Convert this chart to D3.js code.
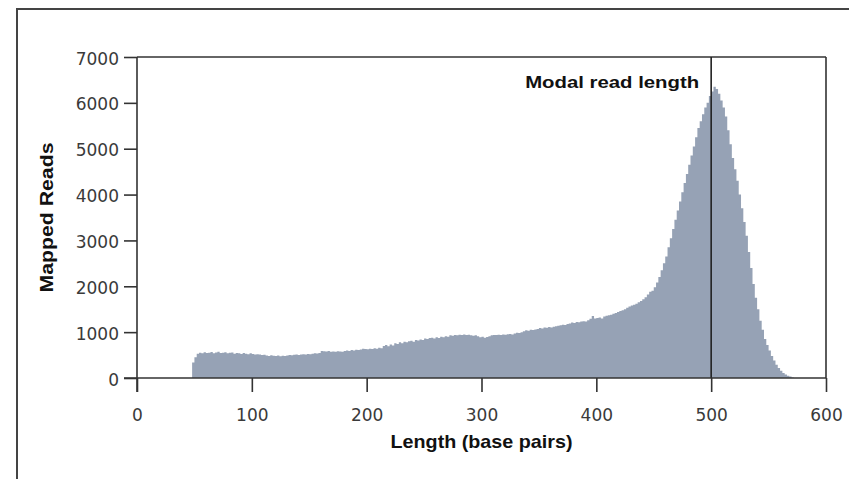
<!DOCTYPE html>
<html>
<head>
<meta charset="utf-8">
<script src="https://cdn.jsdelivr.net/npm/d3@7/dist/d3.min.js"></script>
<style>
  html, body { margin: 0; padding: 0; background: #fff; }
  svg { display: block; }
</style>
</head>
<body>
<svg id="chart" width="849" height="479"></svg>
<script>
// ---- DATA ----
const binStart = 48;      // first bin start (bp)
const binWidth = 2;       // bin width (bp)
const counts = [
  340, 450, 530, 550, 540, 560, 545, 550, 565, 540,
  555, 570, 545, 550, 560, 540, 550, 555, 530, 545,
  540, 525, 545, 530, 520, 540, 525, 510, 520, 515,
  500, 505, 490, 480, 495, 485, 480, 490, 475, 485,
  480, 490, 500, 495, 505, 510, 500, 515, 520, 510,
  525, 520, 530, 540, 535, 545, 590, 585, 580, 590,
  575, 580, 570, 585, 580, 575, 590, 600, 590, 610,
  600, 615, 610, 620, 640, 630, 625, 640, 635, 650,
  640, 660, 650, 700, 720, 690, 730, 710, 760, 740,
  780, 760, 790, 780, 800, 810, 790, 830, 820, 840,
  830, 860, 850, 870, 880, 860, 890, 870, 900, 890,
  910, 900, 930, 920, 940, 930, 945, 935, 950, 940,
  945, 930, 920, 930, 910, 890, 900, 880, 895, 910,
  930, 940, 935, 945, 940, 950, 945, 955, 960, 950,
  970, 985, 980, 1000, 1020, 1040, 1030, 1050, 1045, 1060,
  1070, 1090, 1080, 1100, 1095, 1110, 1100, 1120, 1130, 1140,
  1150, 1160, 1155, 1175, 1190, 1210, 1200, 1220, 1215, 1230,
  1240, 1230, 1260, 1290, 1350, 1300, 1310, 1320, 1300, 1340,
  1360, 1370, 1380, 1400, 1420, 1440, 1460, 1480, 1500, 1530,
  1560, 1580, 1600, 1620, 1650, 1680, 1720, 1760, 1820, 1880,
  1900, 1980, 2080, 2200, 2350, 2500, 2650, 2850, 3050, 3250,
  3450, 3650, 3850, 4050, 4250, 4450, 4650, 4850, 5050, 5250,
  5450, 5600, 5750, 5900, 6000, 6150, 6250, 6350, 6300, 6200,
  6050, 5900, 5700, 5400, 5100, 4800, 4550, 4300, 4000, 3700,
  3400, 3100, 2750, 2400, 2050, 1750, 1500, 1250, 1050, 850,
  720, 600, 480, 380, 290, 220, 160, 110, 75, 50,
  30, 12
];
const xTicks = [0, 100, 200, 300, 400, 500, 600];
const yTicks = [0, 1000, 2000, 3000, 4000, 5000, 6000, 7000];
const modalLength = 500;
const xLabel = "Length (base pairs)";
const yLabel = "Mapped Reads";
const modalLabel = "Modal read length";

// ---- LAYOUT ----
const svg = d3.select("#chart");
const mLeft = 137, mRight = 826, mTop = 57, mBottom = 378;

const x = d3.scaleLinear().domain([0, 600]).range([mLeft, mRight]);
const y = d3.scaleLinear().domain([0, 7000]).range([mBottom, mTop]);

const ink = "#333";

// outer border (top & left)
svg.append("path")
  .attr("d", "M17,479 L17,9 L849,9")
  .attr("fill", "none").attr("stroke", "#444").attr("stroke-width", 2);

// histogram as step area
const pts = counts.map((c, i) => ({ s: binStart + i * binWidth, v: c }));
pts.push({ s: binStart + counts.length * binWidth, v: counts[counts.length - 1] });
const area = d3.area()
  .x(d => x(d.s))
  .y0(y(0))
  .y1(d => y(d.v))
  .curve(d3.curveStepAfter);
svg.append("path").datum(pts)
  .attr("d", area)
  .attr("fill", "#96a2b5");

// frame top and right
svg.append("line").attr("x1", x(0)).attr("x2", x(600)).attr("y1", y(7000)).attr("y2", y(7000))
  .attr("stroke", ink).attr("stroke-width", 1.6);
svg.append("line").attr("x1", x(600)).attr("x2", x(600)).attr("y1", y(7000)).attr("y2", y(0))
  .attr("stroke", ink).attr("stroke-width", 1.6);

// modal line
svg.append("line").attr("x1", x(modalLength)).attr("x2", x(modalLength))
  .attr("y1", y(7000)).attr("y2", y(0))
  .attr("stroke", "#222").attr("stroke-width", 1.6);

// axes
const xAxis = d3.axisBottom(x).tickValues(xTicks).tickSize(14).tickSizeOuter(0).tickFormat(d3.format("d"));
const yAxis = d3.axisLeft(y).tickValues(yTicks).tickSize(13).tickSizeOuter(0).tickFormat(d3.format("d"));

const gx = svg.append("g").attr("transform", `translate(0,${mBottom})`).call(xAxis);
const gy = svg.append("g").attr("transform", `translate(${mLeft},0)`).call(yAxis);

[gx, gy].forEach(g => {
  g.select(".domain").attr("stroke", ink).attr("stroke-width", 1.6);
  g.selectAll(".tick line").attr("stroke", ink).attr("stroke-width", 1.6);
  g.selectAll(".tick text")
    .attr("fill", "#3a3a3a")
    .style("font-family", "'DejaVu Sans', sans-serif")
    .style("font-size", "17px");
});
// extend x domain left to meet the y 0 tick, y domain down to meet x 0 tick
gx.select(".domain").attr("d", `M${mLeft - 13},0H${mRight}`);
gy.select(".domain").attr("d", `M0,${y(7000)}V${mBottom + 14}`);
gx.selectAll(".tick text").attr("y", 0).attr("dy", 0).attr("transform", "translate(0,43)");
gy.selectAll(".tick text").attr("x", -18).attr("dy", "0.42em");

// axis titles
svg.append("text")
  .attr("x", (mLeft + mRight) / 2).attr("y", 448)
  .attr("text-anchor", "middle")
  .attr("fill", "#111")
  .style("font-family", "'Liberation Sans', Arial, sans-serif")
  .style("font-weight", "bold").style("font-size", "19px")
  .attr("textLength", 182).attr("lengthAdjust", "spacingAndGlyphs")
  .text(xLabel);

svg.append("text")
  .attr("transform", `translate(53,${(mTop + mBottom) / 2}) rotate(-90)`)
  .attr("text-anchor", "middle")
  .attr("fill", "#111")
  .style("font-family", "'Liberation Sans', Arial, sans-serif")
  .style("font-weight", "bold").style("font-size", "19px")
  .attr("textLength", 150).attr("lengthAdjust", "spacingAndGlyphs")
  .text(yLabel);

// modal annotation
svg.append("text")
  .attr("x", x(modalLength) - 12).attr("y", 88)
  .attr("text-anchor", "end")
  .attr("fill", "#111")
  .style("font-family", "'Liberation Sans', Arial, sans-serif")
  .style("font-weight", "bold").style("font-size", "16px")
  .attr("textLength", 174).attr("lengthAdjust", "spacingAndGlyphs")
  .text(modalLabel);
</script>
</body>
</html>
